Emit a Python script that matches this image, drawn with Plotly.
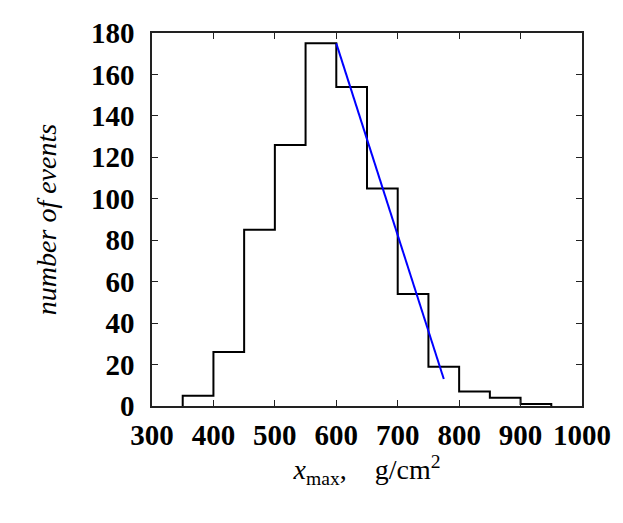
import plotly.graph_objects as go

# histogram of x_max (g/cm^2), bins of 50
bin_left = [350, 400, 450, 500, 550, 600, 650, 700, 750, 800, 850, 900]
bin_right_end = 950
counts = [5, 26, 85, 126, 175, 154, 105, 54, 19, 7, 4, 1]

# straight-line fit on the falling edge
fit_x = [600, 775]
fit_y = [175, 13]

x_ticks = [300, 400, 500, 600, 700, 800, 900, 1000]
y_ticks = [0, 20, 40, 60, 80, 100, 120, 140, 160, 180]

# step outline: start from zero, finish back at zero
step_x = [bin_left[0]] + bin_left + [bin_right_end]
step_y = [0] + counts + [0]

fig = go.Figure()
fig.add_trace(
    go.Scatter(
        x=step_x,
        y=step_y,
        mode="lines",
        line=dict(color="black", width=2, shape="hv"),
        showlegend=False,
    )
)
fig.add_trace(
    go.Scatter(
        x=fit_x,
        y=fit_y,
        mode="lines",
        line=dict(color="#0000ff", width=2),
        showlegend=False,
    )
)

tickfont = dict(family="Liberation Serif", size=29, color="black", weight="bold")
axis_common = dict(
    showline=True,
    linecolor="#222222",
    linewidth=1.5,
    mirror="ticks",
    ticks="inside",
    ticklen=6,
    tickcolor="#222222",
    showgrid=False,
    zeroline=False,
    tickfont=tickfont,
)

# page body adds an 8px offset, so margins are trimmed by that much
fig.update_layout(
    width=623,
    height=523,
    plot_bgcolor="white",
    paper_bgcolor="white",
    margin=dict(l=144, r=49, t=25, b=125, autoexpand=False),
    xaxis=dict(
        range=[300, 1000],
        tickvals=x_ticks,
        ticklabelstandoff=2,
        automargin=False,
        title=dict(
            text="<i>x</i><sub>max</sub>,    g/cm<sup>2</sup>",
            font=dict(family="Liberation Serif", size=28, color="black"),
            standoff=8,
        ),
        **axis_common,
    ),
    yaxis=dict(
        range=[0, 180],
        tickvals=y_ticks,
        ticklabelstandoff=10,
        automargin=False,
        title=dict(
            text="<i>number of events</i>",
            font=dict(family="Liberation Serif", size=28, color="black"),
            standoff=26,
        ),
        **axis_common,
    ),
)

fig.write_html("out.html")
